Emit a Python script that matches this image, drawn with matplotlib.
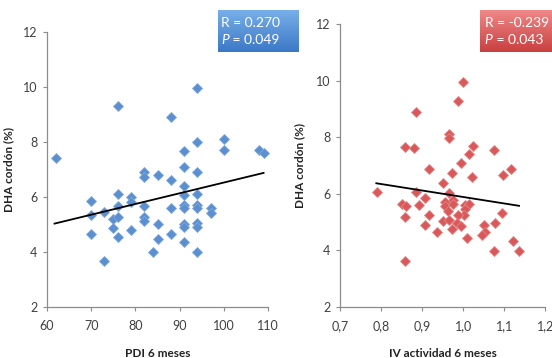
import numpy as np
import matplotlib
matplotlib.use("Agg")
import matplotlib.pyplot as plt

plt.rcParams['font.family'] = ['Lato', 'DejaVu Sans']

# ---- data: left panel (PDI 6 meses vs DHA cordón) ----
pdi_x = [62, 76, 94, 88, 91, 94, 100, 100, 108, 109, 91, 94, 82, 85, 82, 88, 91, 94,
         91, 88, 91, 91, 94, 94, 97, 97, 82, 82, 82, 85, 91, 91, 94, 94, 85, 88, 91,
         84, 94, 73, 70, 70, 70, 73, 76, 76, 75, 76, 75, 76, 79, 79, 79]
pdi_y = [7.4, 9.3, 9.95, 8.9, 7.65, 8.0, 8.1, 7.7, 7.7, 7.6, 7.1, 6.9, 6.9, 6.8, 6.7,
         6.6, 6.4, 6.1, 6.05, 5.6, 5.7, 5.6, 5.7, 5.6, 5.6, 5.4, 5.65, 5.25, 5.1, 5.0,
         5.0, 4.9, 5.05, 4.9, 4.45, 4.65, 4.35, 4.0, 4.0, 3.65, 5.85, 5.35, 4.65, 5.45,
         6.1, 5.65, 5.2, 5.25, 4.85, 4.55, 6.0, 5.8, 4.8]

# ---- data: right panel (IV actividad 6 meses vs DHA cordón) ----
iv_x = [1.0, 0.987, 0.885, 0.964, 0.964, 0.858, 0.879, 1.023, 1.015, 1.076, 0.995,
        0.917, 0.972, 1.02, 1.098, 1.117, 0.79, 0.885, 0.951, 0.966, 0.906, 0.85,
        0.86, 0.893, 0.955, 0.955, 0.976, 0.976, 1.004, 1.015, 1.004, 0.963, 1.002,
        0.988, 0.917, 0.859, 0.95, 0.966, 0.984, 0.994, 0.907, 0.972, 0.937, 1.008,
        1.05, 1.053, 1.046, 1.078, 1.094, 1.121, 1.076, 1.136, 0.859]
iv_y = [9.95, 9.28, 8.9, 8.1, 7.98, 7.66, 7.62, 7.7, 7.4, 7.54, 7.09, 6.86, 6.72, 6.6,
        6.66, 6.86, 6.04, 6.07, 6.39, 6.01, 5.85, 5.65, 5.57, 5.6, 5.71, 5.56, 5.77,
        5.63, 5.61, 5.63, 5.45, 5.39, 5.23, 5.24, 5.23, 5.16, 5.04, 5.05, 4.97, 4.86,
        4.88, 4.76, 4.63, 4.43, 4.89, 4.65, 4.54, 4.95, 5.33, 4.33, 3.98, 3.96, 3.63]

left_xticks = [60, 70, 80, 90, 100, 110]
left_xticklabels = ['60', '70', '80', '90', '100', '110']
right_xticks = [0.7, 0.8, 0.9, 1.0, 1.1, 1.2]
right_xticklabels = ['0,7', '0,8', '0,9', '1,0', '1,1', '1,2']
yticks = [2, 4, 6, 8, 10, 12]

left_stats = ['R = 0.270', '0.049']
right_stats = ['R = -0.239', '0.043']

xlabels = ['PDI 6 meses', 'IV actividad 6 meses']
ylabel = 'DHA cordón (%)'

fig = plt.figure(figsize=(5.52, 3.58), dpi=100)
W, H = 552, 358

def ax_px(x0, x1, y0, y1):
    return fig.add_axes([x0 / W, 1 - y1 / H, (x1 - x0) / W, (y1 - y0) / H])

axL = ax_px(47, 268, 32, 306.5)
axR = ax_px(340.3, 545.3, 24, 306.7)

spine_col = '#8c8c8c'
tick_col = '#404040'

def style(ax, xlim, xticks, xticklabels, xlabel):
    ax.set_xlim(*xlim)
    ax.set_ylim(2, 12)
    ax.set_xticks(xticks)
    ax.set_xticklabels(xticklabels)
    ax.set_yticks(yticks)
    for s in ['top', 'right']:
        ax.spines[s].set_visible(False)
    for s in ['left', 'bottom']:
        ax.spines[s].set_color(spine_col)
        ax.spines[s].set_linewidth(0.9)
    ax.tick_params(direction='out', length=3, width=0.8, color=spine_col,
                   labelcolor=tick_col, labelsize=9, pad=4)
    ax.tick_params(axis='x', pad=7)
    ax.set_xlabel(xlabel, fontsize=8.5, fontweight='bold', color='#222222', labelpad=11)
    ax.set_ylabel(ylabel, fontsize=8.5, fontweight='bold', color='#222222', labelpad=8)
    ax.patch.set_alpha(0)

def scatter_fit(ax, xs, ys, color, edge):
    xs = np.asarray(xs); ys = np.asarray(ys)
    ax.plot(xs, ys, linestyle='none', marker='D', markersize=5.5,
            markerfacecolor=color, markeredgecolor=edge, markeredgewidth=0.6,
            zorder=3, clip_on=False)
    k, b = np.polyfit(xs, ys, 1)
    xx = np.array([xs.min() - 0.3 * (xs.max() - xs.min()) / 48, xs.max()])
    ax.plot(xx, k * xx + b, color='black', linewidth=1.3, zorder=4)

style(axL, (60, 110), left_xticks, left_xticklabels, xlabels[0])
style(axR, (0.7, 1.2), right_xticks, right_xticklabels, xlabels[1])
axL.yaxis.set_label_coords(-0.15, 0.5)
axR.yaxis.set_label_coords(-0.17, 0.5)

scatter_fit(axL, pdi_x, pdi_y, '#5b8fd0', '#7ea9dc')
scatter_fit(axR, iv_x, iv_y, '#d9595a', '#e68585')

def grad_box(x0, x1, y0, y1, top_col, bot_col, lines, pad):
    bax = ax_px(x0, x1, y0, y1)
    c1 = np.array(matplotlib.colors.to_rgb(top_col))
    c2 = np.array(matplotlib.colors.to_rgb(bot_col))
    t = np.linspace(0, 1, 64)[:, None]
    img = (c1[None, :] * (1 - t) + c2[None, :] * t)[:, None, :]
    bax.imshow(img, aspect='auto', extent=[0, 1, 0, 1], origin='upper')
    bax.set_xlim(0, 1); bax.set_ylim(0, 1)
    bax.set_xticks([]); bax.set_yticks([])
    for s in bax.spines.values():
        s.set_visible(False)
    fs = 10
    bax.text(pad, 0.70, lines[0], color='white', fontsize=fs,
             va='center', ha='left', transform=bax.transAxes)
    tp = bax.text(pad, 0.28, 'P', color='white', fontsize=fs, fontstyle='italic',
                  va='center', ha='left', transform=bax.transAxes)
    bax.annotate(' = ' + lines[1], xy=(1, 0.5), xycoords=tp, color='white',
                 fontsize=fs, va='center', ha='left')
    return bax

grad_box(218, 299, 10, 52, '#79b0ea', '#3c78c6', left_stats, 0.04)
grad_box(480, 560, 10, 52, '#f08a8a', '#c9403f', right_stats, 0.06)

fig.savefig('out.png', dpi=100)
